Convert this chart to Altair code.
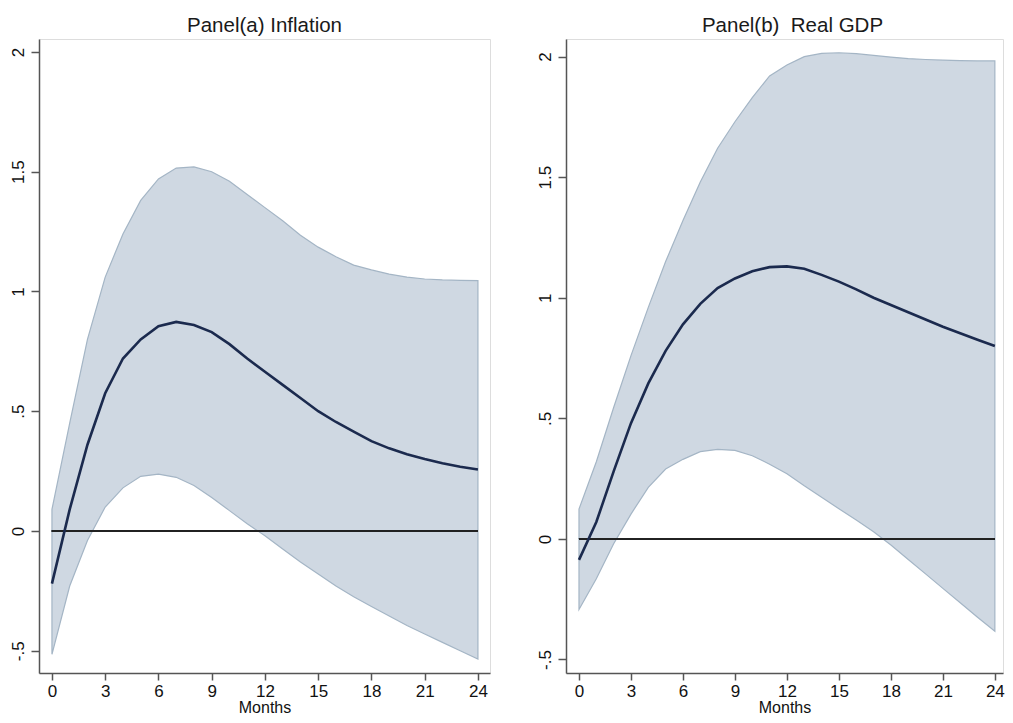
import altair as alt
import pandas as pd

months = list(range(25))
x_ticks = [0, 3, 6, 9, 12, 15, 18, 21, 24]
y_ticks = [-0.5, 0, 0.5, 1, 1.5, 2]

infl_irf = [-0.22, 0.09, 0.36, 0.575, 0.72, 0.80, 0.855, 0.873, 0.86, 0.83, 0.78, 0.72,
            0.665, 0.61, 0.555, 0.50, 0.455, 0.415, 0.375, 0.345, 0.32, 0.30, 0.283, 0.268, 0.257]
infl_lo = [-0.515, -0.23, -0.04, 0.10, 0.18, 0.228, 0.237, 0.224, 0.19, 0.14, 0.085, 0.03,
           -0.02, -0.075, -0.13, -0.18, -0.23, -0.275, -0.315, -0.355, -0.395, -0.43, -0.465, -0.50, -0.535]
infl_hi = [0.09, 0.45, 0.80, 1.06, 1.24, 1.38, 1.47, 1.515, 1.52, 1.50, 1.46, 1.405,
           1.35, 1.295, 1.235, 1.185, 1.145, 1.11, 1.09, 1.072, 1.06, 1.052, 1.048, 1.046, 1.045]

gdp_irf = [-0.087, 0.07, 0.28, 0.48, 0.645, 0.78, 0.89, 0.975, 1.04, 1.08, 1.11, 1.127,
           1.13, 1.12, 1.095, 1.067, 1.035, 1.0, 0.97, 0.94, 0.91, 0.88, 0.853, 0.826, 0.80]
gdp_lo = [-0.293, -0.165, -0.02, 0.103, 0.214, 0.29, 0.33, 0.362, 0.371, 0.367, 0.345, 0.31,
          0.27, 0.22, 0.173, 0.125, 0.078, 0.03, -0.025, -0.085, -0.145, -0.205, -0.265, -0.325, -0.383]
gdp_hi = [0.124, 0.32, 0.545, 0.76, 0.96, 1.15, 1.32, 1.48, 1.62, 1.73, 1.83, 1.92,
          1.965, 2.0, 2.013, 2.016, 2.012, 2.005, 1.998, 1.992, 1.988, 1.985, 1.983, 1.982, 1.982]

titles = ["Panel(a) Inflation", "Panel(b)\u00a0 Real GDP"]

FONT = "Liberation Sans"
BAND_FILL = "#cfd8e2"
BAND_EDGE = "#a4b5c5"
LINE_COL = "#1b2a4e"
AXIS_COL = "#555555"


def panel(irf, lo, hi, title, xdom, ydom, width, height, tdx):
    df = pd.DataFrame({"month": months, "irf": irf, "lo": lo, "hi": hi})
    xs = alt.Scale(domain=xdom, nice=False, zero=False)
    ys = alt.Scale(domain=ydom, nice=False, zero=False)
    xax = alt.Axis(values=x_ticks, title="Months", grid=False, labelFlush=False,
                   labelOverlap=False, labelBound=False,
                   domainColor=AXIS_COL, domainWidth=1.5, tickColor=AXIS_COL, tickWidth=1.5,
                   tickSize=7, labelFont=FONT, labelFontSize=17, labelColor="#111111",
                   labelPadding=3, titleFont=FONT, titleFontSize=16, titleFontWeight="normal",
                   titleColor="#111111", titlePadding=0)
    yax = alt.Axis(values=y_ticks, title=None, grid=False,
                   labelExpr="replace(toString(datum.value), '0.', '.')",
                   labelAngle=270, labelAlign="center", labelBaseline="bottom",
                   labelOverlap=False, labelFlush=False, labelBound=False,
                   domainColor=AXIS_COL, domainWidth=1.5, tickColor=AXIS_COL, tickWidth=1.5,
                   tickSize=8, labelFont=FONT, labelFontSize=17, labelColor="#111111",
                   labelPadding=4)
    base = alt.Chart(df)
    band = base.mark_area(fill=BAND_FILL, stroke=BAND_EDGE, strokeWidth=1.2, opacity=1).encode(
        x=alt.X("month:Q", scale=xs, axis=xax),
        y=alt.Y("lo:Q", scale=ys, axis=yax),
        y2="hi:Q",
    )
    zero = base.mark_rule(color="#222222", strokeWidth=1.6).encode(
        x=alt.datum(months[0]), x2=alt.datum(months[-1]), y=alt.datum(0)
    )
    line = base.mark_line(color=LINE_COL, strokeWidth=2.6).encode(
        x="month:Q", y="irf:Q"
    )
    ttl = alt.Chart(pd.DataFrame({"t": [title]})).mark_text(
        font=FONT, fontSize=20.5, color="#1a1a1a", align="center", baseline="alphabetic"
    ).encode(text="t:N", x=alt.value(width / 2 + tdx), y=alt.value(-7))
    return alt.layer(band, zero, line, ttl).properties(width=width, height=height)


left = panel(infl_irf, infl_lo, infl_hi, titles[0],
             [-0.73, 24.68], [-0.593, 2.054], 451, 634, 0)
right = panel(gdp_irf, gdp_lo, gdp_hi, titles[1],
              [-0.75, 24.47], [-0.556, 2.073], 437, 634, 8)

chart = alt.hconcat(left, right, spacing=44).properties(
    padding={"left": 0, "top": 7, "right": 0, "bottom": 0}
).configure_view(stroke=None).configure(background="white")

chart.save("out.html", embed_options={"renderer": "svg", "actions": False})
